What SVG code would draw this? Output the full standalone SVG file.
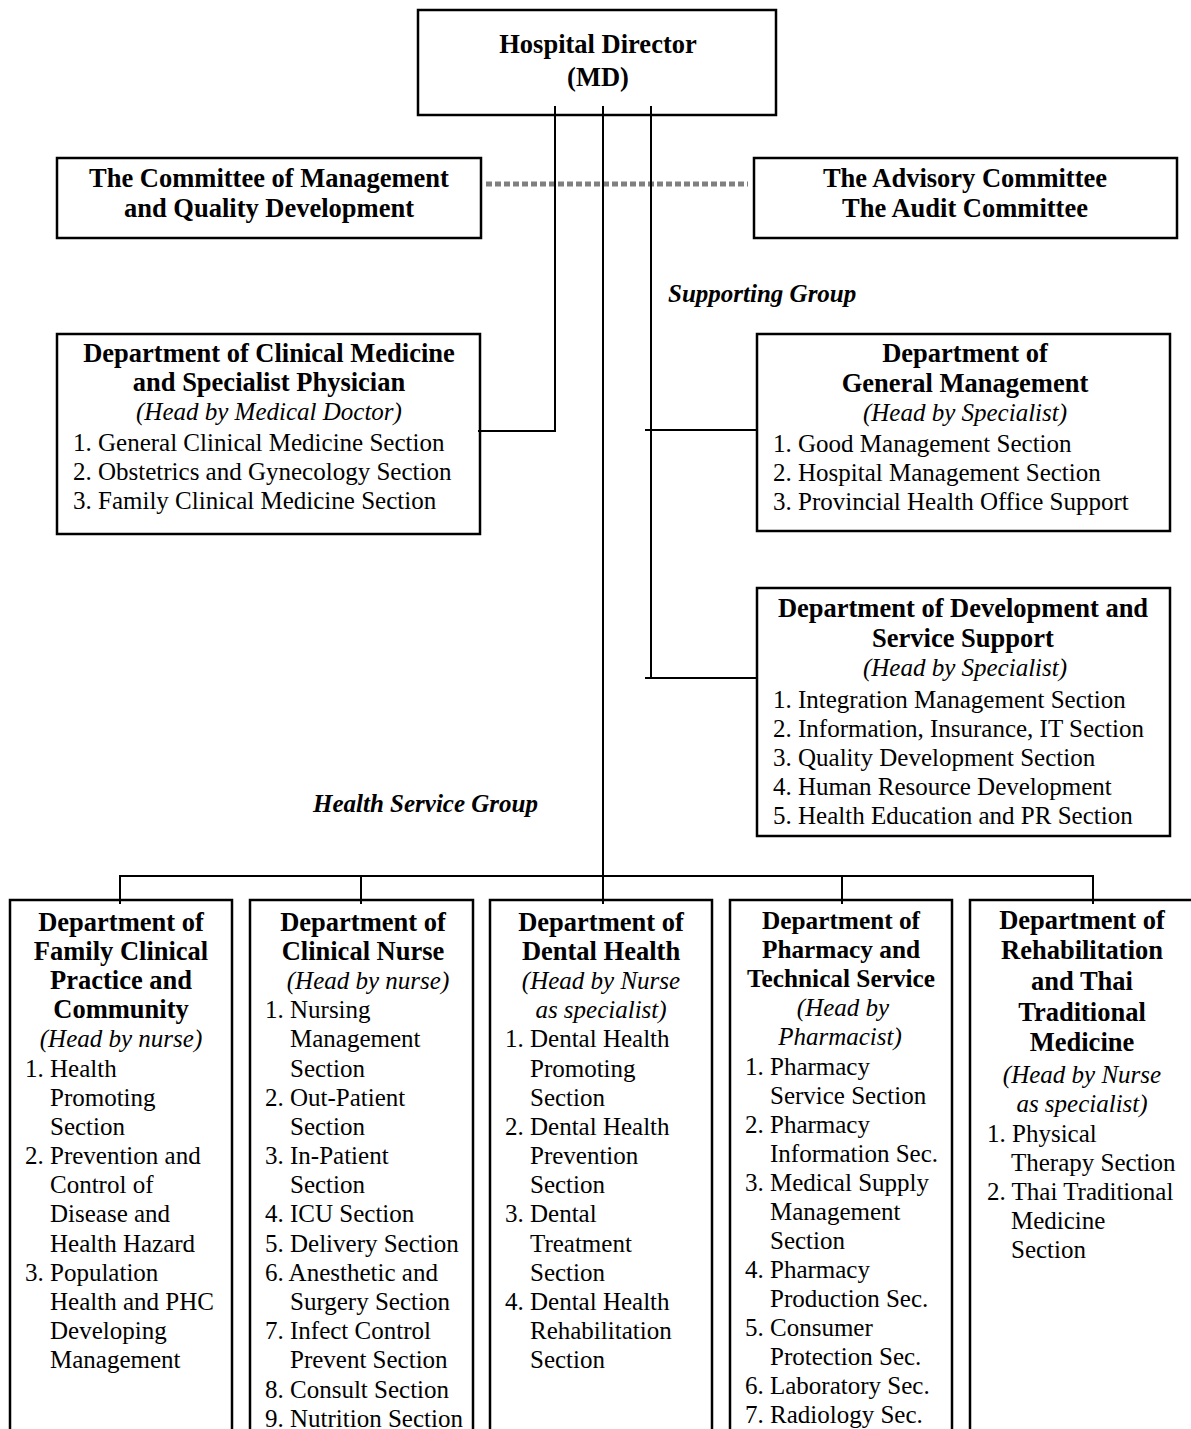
<svg xmlns="http://www.w3.org/2000/svg" width="1191" height="1429" viewBox="0 0 1191 1429">
<style>
text{font-family:"Liberation Serif","Times New Roman",serif;fill:#000}
.box{fill:#fff;stroke:#000;stroke-width:2.5}
.b{font-weight:bold;font-size:26.5px;text-anchor:middle}
.bs{font-weight:bold;font-size:25.3px;text-anchor:middle}
.i{font-style:italic;font-size:25px;text-anchor:middle}
.t{font-size:25px}
.lbl{font-weight:bold;font-style:italic;font-size:25px}
.conn{stroke:#000;stroke-width:2;fill:none}
.dot{stroke:#808080;stroke-width:5;stroke-dasharray:6 3;fill:none}
</style>
<rect width="1191" height="1429" fill="#fff"/>
<g id="director">
<rect class="box" x="418" y="10" width="358" height="105"/>
<text class="b" x="598" y="53">Hospital Director</text>
<text class="b" x="598" y="86">(MD)</text>
</g>
<g id="committee-mgmt">
<rect class="box" x="57" y="158" width="424" height="80"/>
<text class="b" x="269" y="187">The Committee of Management</text>
<text class="b" x="269" y="217">and Quality Development</text>
</g>
<g id="committee-advisory">
<rect class="box" x="754" y="158" width="423" height="80"/>
<text class="b" x="965" y="187">The Advisory Committee</text>
<text class="b" x="965" y="217">The Audit Committee</text>
</g>
<g id="label-supporting">
<text class="lbl" x="668" y="302">Supporting Group</text>
</g>
<g id="label-health">
<text class="lbl" x="313" y="812">Health Service Group</text>
</g>
<g id="dept-clinical-medicine">
<rect class="box" x="57" y="334" width="423" height="200"/>
<text class="b" x="269" y="362">Department of Clinical Medicine</text>
<text class="b" x="269" y="391">and Specialist Physician</text>
<text class="i" x="269" y="420">(Head by Medical Doctor)</text>
<text class="t" x="73" y="451">1. General Clinical Medicine Section</text>
<text class="t" x="73" y="480">2. Obstetrics and Gynecology Section</text>
<text class="t" x="73" y="509">3. Family Clinical Medicine Section</text>
</g>
<g id="dept-general-management">
<rect class="box" x="757" y="334" width="413" height="197"/>
<text class="b" x="965" y="362">Department of</text>
<text class="b" x="965" y="392">General Management</text>
<text class="i" x="965" y="421">(Head by Specialist)</text>
<text class="t" x="773" y="452">1. Good Management Section</text>
<text class="t" x="773" y="481">2. Hospital Management Section</text>
<text class="t" x="773" y="510">3. Provincial Health Office Support</text>
</g>
<g id="dept-development">
<rect class="box" x="757" y="588" width="413" height="248"/>
<text class="b" x="963" y="617">Department of Development and</text>
<text class="b" x="963" y="647">Service Support</text>
<text class="i" x="965" y="676">(Head by Specialist)</text>
<text class="t" x="773" y="708">1. Integration Management Section</text>
<text class="t" x="773" y="737">2. Information, Insurance, IT Section</text>
<text class="t" x="773" y="766">3. Quality Development Section</text>
<text class="t" x="773" y="795">4. Human Resource Development</text>
<text class="t" x="773" y="824">5. Health Education and PR Section</text>
</g>
<g id="dept-family">
<rect class="box" x="10" y="900" width="222" height="560"/>
<text class="b" x="121" y="931">Department of</text>
<text class="b" x="121" y="960">Family Clinical</text>
<text class="b" x="121" y="989">Practice and</text>
<text class="b" x="121" y="1018">Community</text>
<text class="i" x="121" y="1047">(Head by nurse)</text>
<text class="t" x="25" y="1077">1. Health</text>
<text class="t" x="50" y="1106">Promoting</text>
<text class="t" x="50" y="1135">Section</text>
<text class="t" x="25" y="1164">2. Prevention and</text>
<text class="t" x="50" y="1193">Control of</text>
<text class="t" x="50" y="1222">Disease and</text>
<text class="t" x="50" y="1252">Health Hazard</text>
<text class="t" x="25" y="1281">3. Population</text>
<text class="t" x="50" y="1310">Health and PHC</text>
<text class="t" x="50" y="1339">Developing</text>
<text class="t" x="50" y="1368">Management</text>
</g>
<g id="dept-nurse">
<rect class="box" x="250" y="900" width="223" height="560"/>
<text class="b" x="363" y="931">Department of</text>
<text class="b" x="363" y="960">Clinical Nurse</text>
<text class="i" x="368" y="989">(Head by nurse)</text>
<text class="t" x="265" y="1018">1. Nursing</text>
<text class="t" x="290" y="1047">Management</text>
<text class="t" x="290" y="1077">Section</text>
<text class="t" x="265" y="1106">2. Out-Patient</text>
<text class="t" x="290" y="1135">Section</text>
<text class="t" x="265" y="1164">3. In-Patient</text>
<text class="t" x="290" y="1193">Section</text>
<text class="t" x="265" y="1222">4. ICU Section</text>
<text class="t" x="265" y="1252">5. Delivery Section</text>
<text class="t" x="265" y="1281">6. Anesthetic and</text>
<text class="t" x="290" y="1310">Surgery Section</text>
<text class="t" x="265" y="1339">7. Infect Control</text>
<text class="t" x="290" y="1368">Prevent Section</text>
<text class="t" x="265" y="1398">8. Consult Section</text>
<text class="t" x="265" y="1427">9. Nutrition Section</text>
</g>
<g id="dept-dental">
<rect class="box" x="490" y="900" width="222" height="560"/>
<text class="b" x="601" y="931">Department of</text>
<text class="b" x="601" y="960">Dental Health</text>
<text class="i" x="601" y="989">(Head by Nurse</text>
<text class="i" x="601" y="1018">as specialist)</text>
<text class="t" x="505" y="1047">1. Dental Health</text>
<text class="t" x="530" y="1077">Promoting</text>
<text class="t" x="530" y="1106">Section</text>
<text class="t" x="505" y="1135">2. Dental Health</text>
<text class="t" x="530" y="1164">Prevention</text>
<text class="t" x="530" y="1193">Section</text>
<text class="t" x="505" y="1222">3. Dental</text>
<text class="t" x="530" y="1252">Treatment</text>
<text class="t" x="530" y="1281">Section</text>
<text class="t" x="505" y="1310">4. Dental Health</text>
<text class="t" x="530" y="1339">Rehabilitation</text>
<text class="t" x="530" y="1368">Section</text>
</g>
<g id="dept-pharmacy">
<rect class="box" x="730" y="900" width="222" height="560"/>
<text class="bs" x="841" y="929">Department of</text>
<text class="bs" x="841" y="958">Pharmacy and</text>
<text class="bs" x="841" y="987">Technical Service</text>
<text class="i" x="843" y="1016">(Head by</text>
<text class="i" x="840" y="1045">Pharmacist)</text>
<text class="t" x="745" y="1075">1. Pharmacy</text>
<text class="t" x="770" y="1104">Service Section</text>
<text class="t" x="745" y="1133">2. Pharmacy</text>
<text class="t" x="770" y="1162">Information Sec.</text>
<text class="t" x="745" y="1191">3. Medical Supply</text>
<text class="t" x="770" y="1220">Management</text>
<text class="t" x="770" y="1249">Section</text>
<text class="t" x="745" y="1278">4. Pharmacy</text>
<text class="t" x="770" y="1307">Production Sec.</text>
<text class="t" x="745" y="1336">5. Consumer</text>
<text class="t" x="770" y="1365">Protection Sec.</text>
<text class="t" x="745" y="1394">6. Laboratory Sec.</text>
<text class="t" x="745" y="1423">7. Radiology Sec.</text>
</g>
<g id="dept-rehab">
<rect class="box" x="970" y="900" width="240" height="560"/>
<text class="b" x="1082" y="929">Department of</text>
<text class="b" x="1082" y="959">Rehabilitation</text>
<text class="b" x="1082" y="990">and Thai</text>
<text class="b" x="1082" y="1021">Traditional</text>
<text class="b" x="1082" y="1051">Medicine</text>
<text class="i" x="1082" y="1083">(Head by Nurse</text>
<text class="i" x="1082" y="1112">as specialist)</text>
<text class="t" x="987" y="1142">1. Physical</text>
<text class="t" x="1011" y="1171">Therapy Section</text>
<text class="t" x="987" y="1200">2. Thai Traditional</text>
<text class="t" x="1011" y="1229">Medicine</text>
<text class="t" x="1011" y="1258">Section</text>
</g>
<g id="connectors">
<path class="dot" d="M486 184 H748"/>
<path class="conn" d="M555 106 V431 H478"/>
<path class="conn" d="M603 106 V904"/>
<path class="conn" d="M651 106 V678"/>
<path class="conn" d="M645 430 H757"/>
<path class="conn" d="M645 678 H757"/>
<path class="conn" d="M120 904 V876 H1093 V904"/>
<path class="conn" d="M361 876 V904"/>
<path class="conn" d="M842 876 V904"/>
</g>
</svg>
